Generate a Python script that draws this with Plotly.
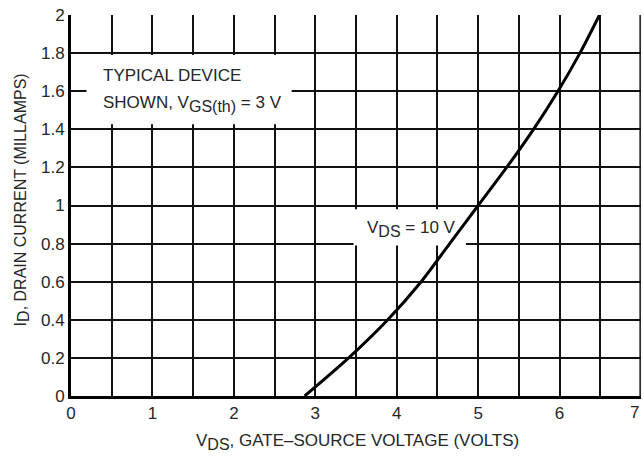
import plotly.graph_objects as go

# Data
vgs = [2.87, 3.41, 3.89, 4.30, 4.65, 5.00, 5.35, 5.68, 5.98, 6.25, 6.49]
id_ma = [0.0, 0.2, 0.4, 0.6, 0.8, 1.0, 1.2, 1.4, 1.6, 1.8, 2.0]
x_ticks = [0, 1, 2, 3, 4, 5, 6, 7]
y_ticks = [0, 0.2, 0.4, 0.6, 0.8, 1, 1.2, 1.4, 1.6, 1.8, 2]
y_tick_text = ["0", "0.2", "0.4", "0.6", "0.8", "1", "1.2", "1.4", "1.6", "1.8", "2"]

FONT = "Liberation Sans Narrow, Arial Narrow, Liberation Sans, Arial, sans-serif"
TXT = "#262626"
SUB = "<span style='font-size:16px'>%s</span>"

fig = go.Figure()
fig.add_trace(go.Scatter(
    x=vgs, y=id_ma, mode="lines",
    line=dict(color="black", width=3, shape="spline", smoothing=0.8),
    showlegend=False, hoverinfo="skip",
))

fig.update_layout(
    width=643, height=461,
    margin=dict(l=71, r=2, t=15, b=65, autoexpand=False),
    paper_bgcolor="white", plot_bgcolor="white",
    font=dict(family=FONT, size=18, color=TXT),
    xaxis=dict(
        range=[0, 7], tickvals=x_ticks, ticktext=[str(v) for v in x_ticks],
        showgrid=True, gridcolor="#111111", gridwidth=1.5,
        minor=dict(dtick=0.5, showgrid=True, gridcolor="#111111", gridwidth=1.5),
        showline=True, linecolor="black", linewidth=3,
        zeroline=False, ticks="", automargin=False,
        tickfont=dict(size=17, family=FONT, color=TXT),
    ),
    yaxis=dict(
        range=[0, 2], tickvals=y_ticks, ticktext=y_tick_text,
        showgrid=True, gridcolor="#111111", gridwidth=1.5,
        showline=True, linecolor="black", linewidth=3,
        zeroline=False, ticks="", automargin=False,
        tickfont=dict(size=17, family=FONT, color=TXT),
    ),
)

# right-hand border at x = 7 (nudged inside the clip area so it stays visible)
fig.add_shape(type="line", xref="paper", yref="paper", x0=0.9985, x1=0.9985, y0=0, y1=1,
              line=dict(color="#111111", width=1.5), layer="between")

# last x tick label at the page edge
fig.add_annotation(x=x_ticks[-1], y=-0.042, xref="x", yref="paper",
                   xanchor="right", yanchor="middle", showarrow=False,
                   text=str(x_ticks[-1]), font=dict(size=17, family=FONT, color=TXT))

# axis titles
fig.add_annotation(x=0.503, y=-0.12, xref="paper", yref="paper",
                   xanchor="center", yanchor="middle", showarrow=False,
                   text="V<sub>" + SUB % "DS" + "</sub>, GATE–SOURCE VOLTAGE (VOLTS)",
                   font=dict(size=17, family=FONT, color=TXT))
fig.add_annotation(x=-0.086, y=0.516, xref="paper", yref="paper",
                   xanchor="center", yanchor="middle", showarrow=False, textangle=-90,
                   text="I<sub>" + SUB % "D" + "</sub>, DRAIN CURRENT (MILLAMPS)",
                   font=dict(size=16, family=FONT, color=TXT))

# white label backgrounds hiding the grid (but below the curve)
fig.add_shape(type="rect", xref="x", yref="y", x0=0.19, x1=2.71, y0=1.427, y1=1.79,
              fillcolor="white", line=dict(width=0), layer="between")
fig.add_shape(type="rect", xref="x", yref="y", x0=3.47, x1=4.85, y0=0.79, y1=0.98,
              fillcolor="white", line=dict(width=0), layer="between")

fig.add_annotation(x=0.374, y=1.685, xref="x", yref="y", xanchor="left", yanchor="middle",
                   text="TYPICAL DEVICE", showarrow=False,
                   font=dict(size=17, family=FONT, color=TXT))
fig.add_annotation(x=0.374, y=1.535, xref="x", yref="y", xanchor="left", yanchor="middle",
                   text="SHOWN, V<sub>" + SUB % "GS(th)" + "</sub> = 3 V", showarrow=False,
                   font=dict(size=17, family=FONT, color=TXT))
fig.add_annotation(x=3.61, y=0.875, xref="x", yref="y", xanchor="left", yanchor="middle",
                   text="V<sub>" + SUB % "DS" + "</sub> = 10 V", showarrow=False,
                   font=dict(size=17, family=FONT, color=TXT))

fig.write_html("out.html", config={"displayModeBar": False},
               post_script="document.body.style.margin='0';document.body.style.overflow='hidden';")
